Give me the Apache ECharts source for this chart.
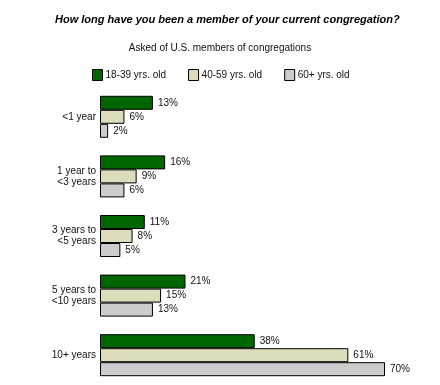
<!DOCTYPE html>
<html><head><meta charset="utf-8">
<script src="https://cdn.jsdelivr.net/npm/echarts@6/dist/echarts.min.js"></script>
<style>html,body{margin:0;padding:0;background:#fff}#c{width:440px;height:385px}</style>
</head><body><div id="c"></div>
<script>
const categories = ['<1 year', '1 year to\n<3 years', '3 years to\n<5 years', '5 years to\n<10 years', '10+ years'];
const seriesNames = ['18-39 yrs. old', '40-59 yrs. old', '60+ yrs. old'];
const young = [13, 16, 11, 21, 38];
const middle = [6, 9, 8, 15, 61];
const older = [2, 6, 5, 13, 70];
const colors = ['#006600', '#DDDDBB', '#CCCCCC'];
const font = 'Arial, "Liberation Sans", sans-serif';

const chart = echarts.init(document.getElementById('c'), null, {renderer: 'canvas'});
function mk(name, data, color) {
  return {
    name, type: 'bar', data, barWidth: 14, barGap: '0%',
    itemStyle: {color, borderColor: '#000', borderWidth: 1},
    label: {show: true, position: 'right', distance: 5, formatter: '{c}%',
      color: '#111', fontSize: 10, fontFamily: font},
    animation: false
  };
}
chart.setOption({
  animation: false,
  title: [
    {text: 'How long have you been a member of your current congregation?', left: 50, top: 9,
     textStyle: {fontSize: 11, fontWeight: 'bold', fontStyle: 'italic', color: '#000', fontFamily: font}},
    {text: 'Asked of U.S. members of congregations', left: 'center', top: 38,
     textStyle: {fontSize: 10, fontWeight: 'normal', color: '#111', fontFamily: font}}
  ],
  legend: {
    data: seriesNames, left: 87, top: 64, itemWidth: 10, itemHeight: 11, itemGap: 22,
    icon: 'rect',
    itemStyle: {borderColor: '#000', borderWidth: 1},
    textStyle: {fontSize: 10, color: '#111', fontFamily: font, padding: [0, 0, 0, -2]}
  },
  grid: {left: 100, right: 55, top: 87, height: 301, containLabel: false},
  xAxis: {type: 'value', min: 0, max: 70, show: false},
  yAxis: {
    type: 'category', data: categories, inverse: true,
    axisLine: {show: false}, axisTick: {show: false},
    axisLabel: {fontSize: 10, color: '#111', fontFamily: font, margin: 4, lineHeight: 11, align: 'right'}
  },
  series: [mk(seriesNames[0], young, colors[0]), mk(seriesNames[1], middle, colors[1]), mk(seriesNames[2], older, colors[2])]
});
</script></body></html>
